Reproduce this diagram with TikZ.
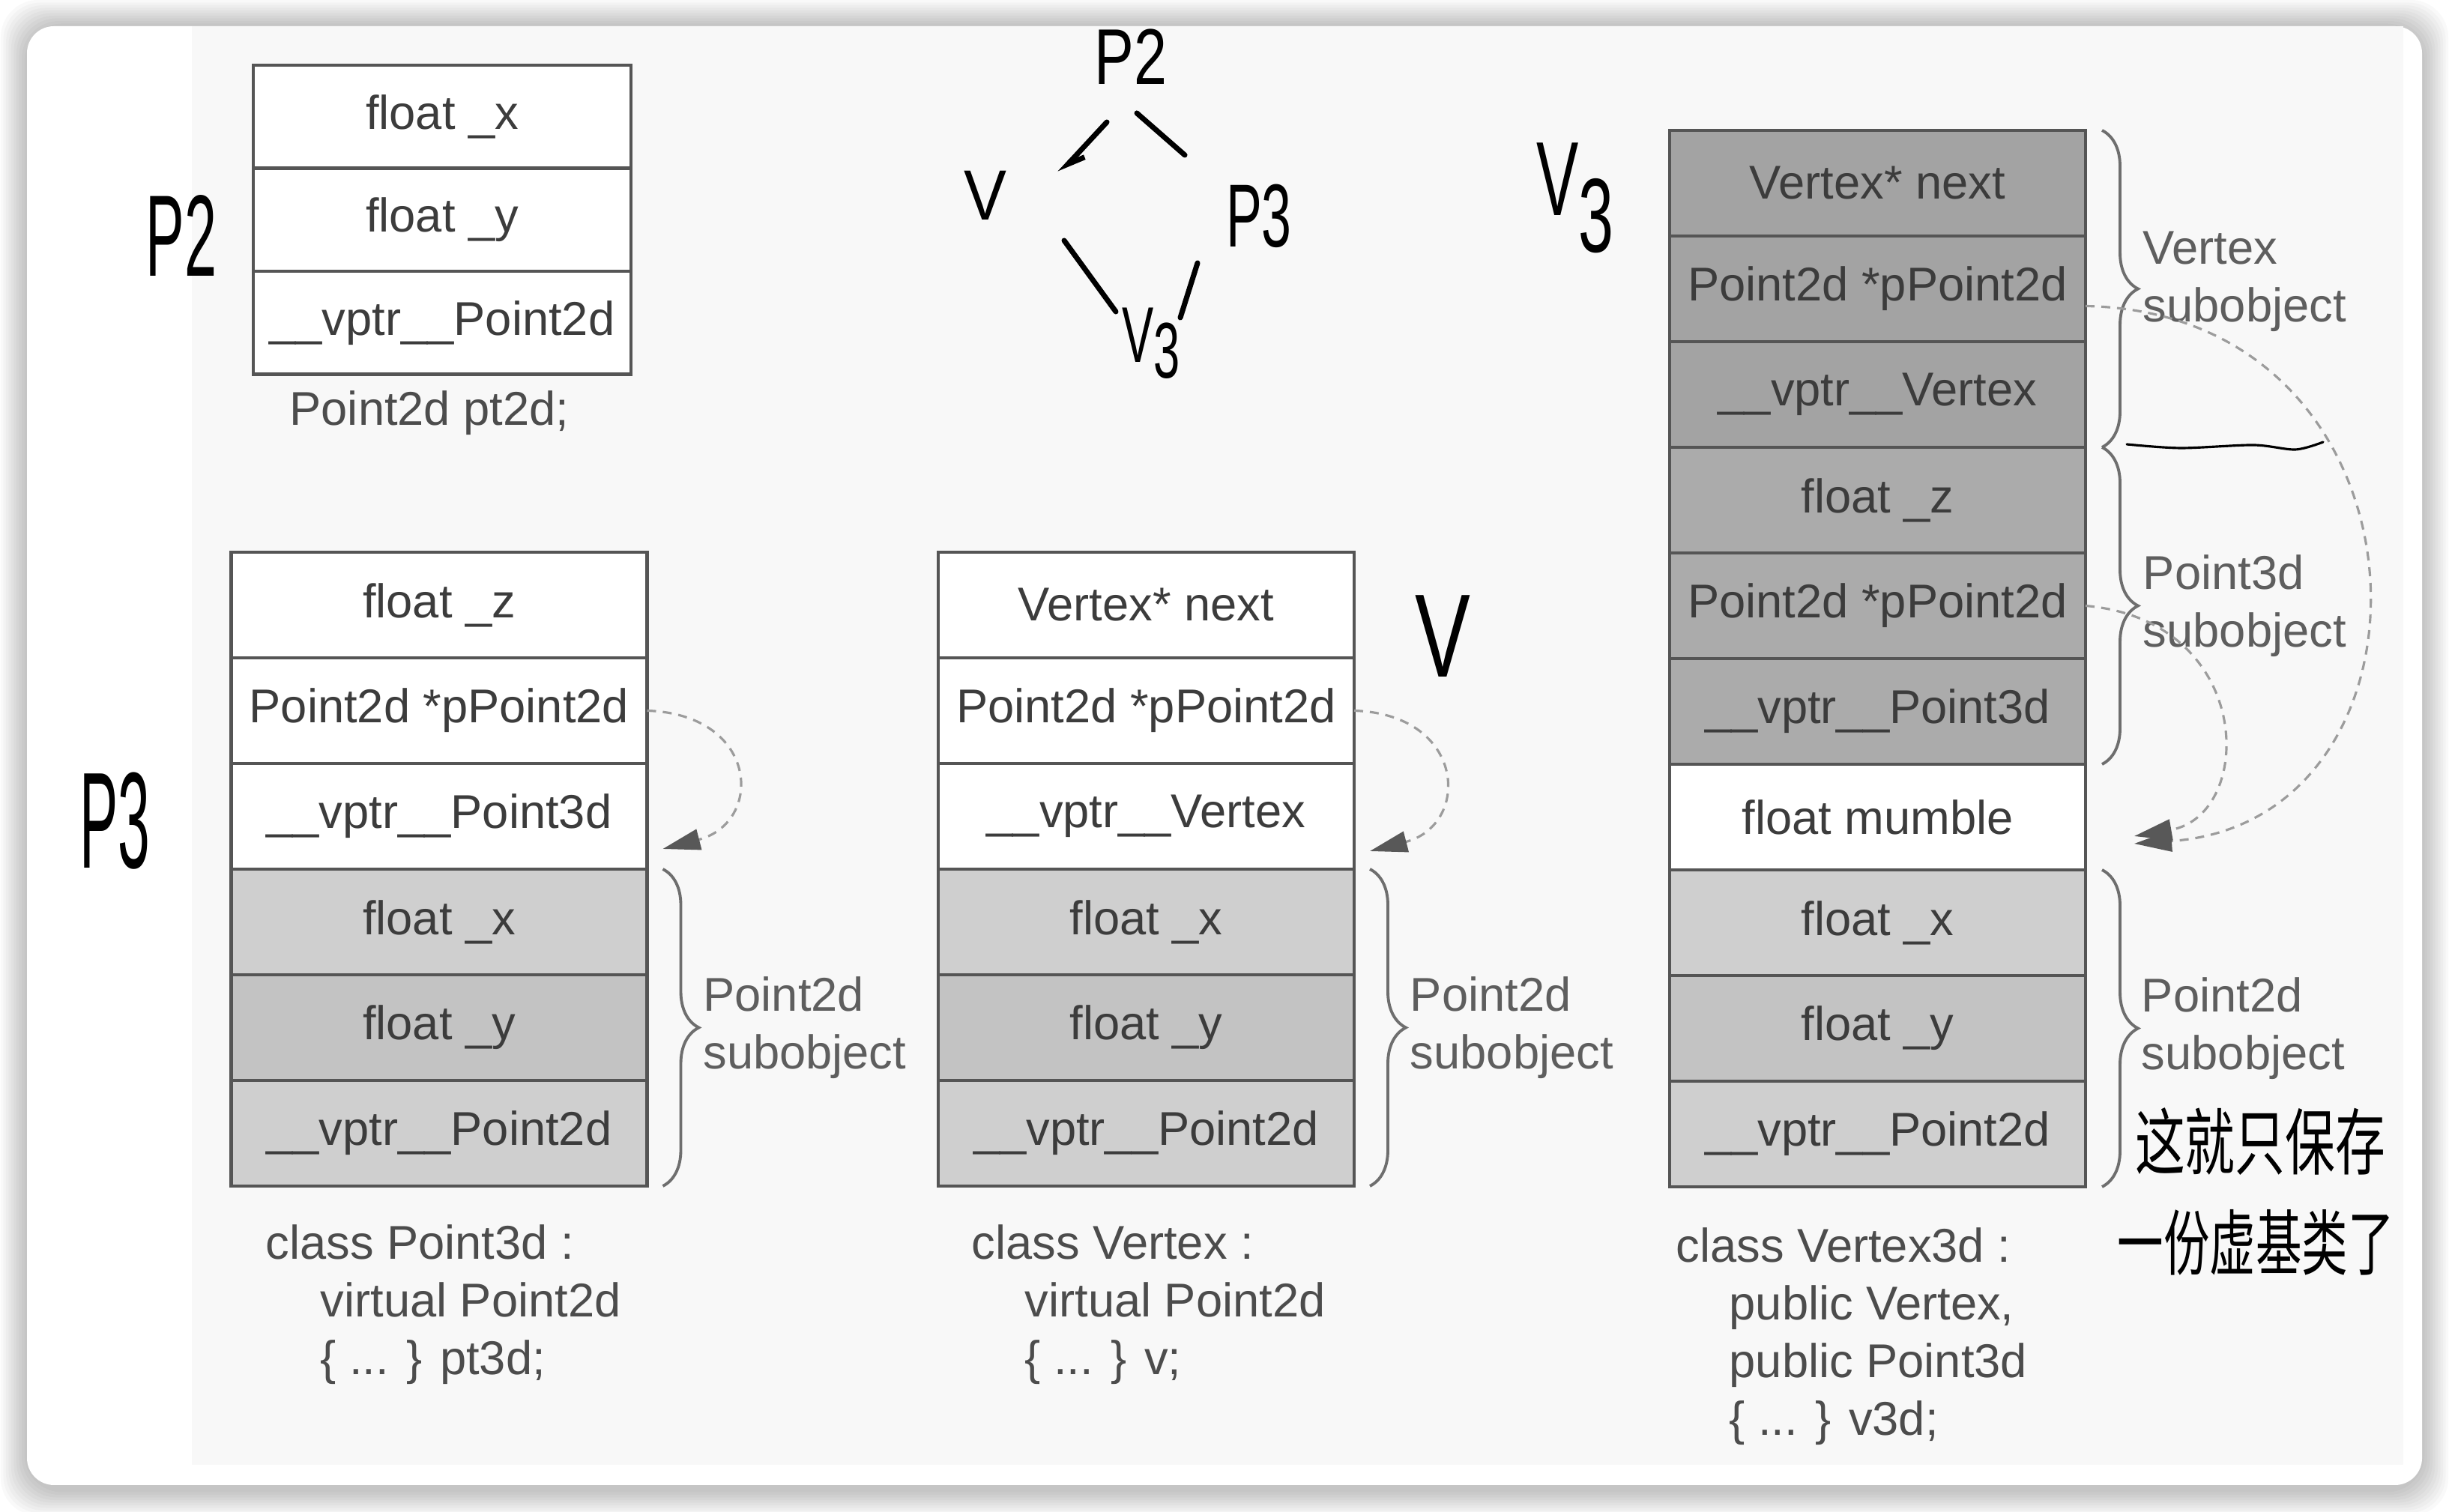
\documentclass[tikz,border=0pt]{standalone}
\usepackage{graphicx}
\usepackage{fontspec}
\setmainfont{Liberation Sans}
\newfontfamily\cjk{Noto Sans CJK SC}
\usetikzlibrary{positioning,arrows.meta,decorations.pathreplacing}

\definecolor{scanbg}{HTML}{F8F8F8}
\definecolor{boxline}{HTML}{555555}
\definecolor{txt}{HTML}{3C3C3C}
\definecolor{captxt}{HTML}{4C4C4C}
\definecolor{lbl}{HTML}{5E5E5E}
\definecolor{bracegray}{HTML}{6E6E6E}
\definecolor{shadeV}{HTML}{A3A3A3}
\definecolor{shadeP}{HTML}{ABABAB}
\definecolor{shadeB}{HTML}{CFCFCF}
\definecolor{ptrgray}{HTML}{9C9C9C}
\definecolor{tipgray}{HTML}{585858}

\newcommand\boxfont{\fontsize{18}{21.9}\selectfont}
% narrow hand-lettering: \handtext{size}{xscale}{text}
\newcommand\handtext[3]{\fontsize{#1}{#1}\selectfont\scalebox{#2}[1]{#3}}

\tikzset{
  field/.style = {draw=boxline, line width=1.3pt, fill=white,
                  minimum width=5.55cm, minimum height=1.41cm,
                  inner sep=0pt, outer sep=0pt, text=txt, font=\boxfont},
  small field/.style = {field, minimum width=5.04cm, minimum height=1.376cm},
  caption/.style = {text=captxt, font=\boxfont, inner sep=0pt, align=left},
  sublbl/.style = {text=lbl, font=\boxfont, inner sep=0pt, align=left, anchor=west},
  brc/.style = {decorate, decoration={brace, amplitude=4.8mm},
                draw=bracegray, line width=1.1pt},
  ptr/.style = {draw=ptrgray, line width=0.9pt, dash pattern=on 1.2mm off 0.9mm,
                -{Triangle[length=5mm, width=2.8mm, color=tipgray, fill=tipgray]}},
  hand/.style = {text=black, inner sep=0pt},
  handline/.style = {black, line width=2pt, line cap=round, line join=round}
}

\begin{document}
\begin{tikzpicture}[x=1cm, y=1cm]

% page and card
\useasboundingbox (0,0) rectangle (32.68,20.18);
\fill[white] (0,0) rectangle (32.68,20.18);
\foreach \i in {1,...,10}
  \fill[black, opacity=0.022, rounded corners=0.5cm]
    (0.36-0.035*\i, 0.30-0.035*\i) rectangle (32.32+0.035*\i, 19.83+0.035*\i);
\fill[white, rounded corners=0.36cm] (0.36,0.36) rectangle (32.32,19.83);
\fill[scanbg] (2.56,0.63) rectangle (32.07,19.83);

% Point2d pt2d
\node[small field] (p2x) at (5.90,18.622) {float \_x};
\node[small field, below=0pt of p2x] (p2y) {float \_y};
\node[small field, below=0pt of p2y] (p2v) {\_\_vptr\_\_Point2d};
\node[caption] (cap2d) at (5.73,14.67) {Point2d pt2d;};

% class Point3d
\node[field] (p3z) at (5.86,12.105) {float \_z};
\node[field, below=0pt of p3z] (p3pp) {Point2d *pPoint2d};
\node[field, below=0pt of p3pp] (p3vp) {\_\_vptr\_\_Point3d};
\node[field, fill=shadeB, below=0pt of p3vp] (p3x) {float \_x};
\node[field, fill=shadeB!94!black, below=0pt of p3x] (p3y) {float \_y};
\node[field, fill=shadeB, below=0pt of p3y] (p3v2) {\_\_vptr\_\_Point2d};
\draw[brc] ([xshift=2.1mm]p3x.north east) -- ([xshift=2.1mm]p3v2.south east)
  node[sublbl, midway, xshift=5.2mm] (p3sub) {Point2d\\subobject};
\coordinate (p3tip) at ([xshift=2.1mm, yshift=2.7mm]p3vp.south east);
\draw[ptr] (p3pp.east) .. controls +(1.5,-0.05) and +(1.35,0.35) .. (p3tip);
\node[caption, anchor=north west] (cap3d) at (3.54,3.84)
  {class Point3d :\\\hspace*{0.73cm}virtual Point2d\\\hspace*{0.73cm}\{ ... \} pt3d;};

% class Vertex
\node[field] (vnx) at (15.295,12.105) {Vertex* next};
\node[field, below=0pt of vnx] (vpp) {Point2d *pPoint2d};
\node[field, below=0pt of vpp] (vvp) {\_\_vptr\_\_Vertex};
\node[field, fill=shadeB, below=0pt of vvp] (vx) {float \_x};
\node[field, fill=shadeB!94!black, below=0pt of vx] (vy) {float \_y};
\node[field, fill=shadeB, below=0pt of vy] (vv2) {\_\_vptr\_\_Point2d};
\draw[brc] ([xshift=2.1mm]vx.north east) -- ([xshift=2.1mm]vv2.south east)
  node[sublbl, midway, xshift=5.2mm] (vsub) {Point2d\\subobject};
\coordinate (vtip) at ([xshift=2.1mm, yshift=2.4mm]vvp.south east);
\draw[ptr] (vpp.east) .. controls +(1.5,-0.05) and +(1.35,0.35) .. (vtip);
\node[caption, anchor=north west] (capv) at (12.96,3.84)
  {class Vertex :\\\hspace*{0.71cm}virtual Point2d\\\hspace*{0.71cm}\{ ... \} v;};

% class Vertex3d
\node[field, fill=shadeV] (v3nx) at (25.055,17.735) {Vertex* next};
\node[field, fill=shadeV, below=0pt of v3nx] (v3pa) {Point2d *pPoint2d};
\node[field, fill=shadeV, below=0pt of v3pa] (v3vv) {\_\_vptr\_\_Vertex};
\node[field, fill=shadeP, below=0pt of v3vv] (v3z) {float \_z};
\node[field, fill=shadeP, below=0pt of v3z] (v3pb) {Point2d *pPoint2d};
\node[field, fill=shadeP, below=0pt of v3pb] (v3vp) {\_\_vptr\_\_Point3d};
\node[field, below=0pt of v3vp] (v3m) {float mumble};
\node[field, fill=shadeB, below=0pt of v3m] (v3x) {float \_x};
\node[field, fill=shadeB!94!black, below=0pt of v3x] (v3y) {float \_y};
\node[field, fill=shadeB, below=0pt of v3y] (v3v2) {\_\_vptr\_\_Point2d};
\draw[brc] ([xshift=2.2mm]v3nx.north east) -- ([xshift=2.2mm]v3vv.south east)
  node[sublbl, midway, xshift=5.3mm, yshift=1mm] (v3vsub) {Vertex\\subobject};
\draw[brc] ([xshift=2.2mm]v3z.north east) -- ([xshift=2.2mm]v3vp.south east)
  node[sublbl, midway, xshift=5.3mm] (v3psub) {Point3d\\subobject};
\draw[brc] ([xshift=2.2mm]v3x.north east) -- ([xshift=2.2mm]v3v2.south east)
  node[sublbl, midway, xshift=5.1mm] (v3bsub) {Point2d\\subobject};
\coordinate (v3tipa) at ([xshift=6.5mm, yshift=3.5mm]v3m.south east);
\coordinate (v3tipb) at ([xshift=6.5mm, yshift=4.5mm]v3m.south east);
\draw[ptr] ([yshift=-2.3mm]v3pa.east) .. controls +(4.77,-0.09) and +(4.3,0.3) .. (v3tipa);
\draw[ptr] (v3pb.east) .. controls +(2.27,-0.2) and +(1.62,0.28) .. (v3tipb);
\node[caption, anchor=north west] (capv3d) at (22.36,3.80)
  {class Vertex3d :\\\hspace*{0.71cm}public Vertex,\\\hspace*{0.71cm}public Point3d\\\hspace*{0.71cm}\{ ... \} v3d;};

% handwritten notes
\node[hand] (nP2) at (2.42,17.03) {\handtext{44}{0.5}{P2}};
\node[hand] (nP3) at (1.53,9.22) {\handtext{52}{0.42}{P3}};
\node[hand] (nV) at (19.25,11.69) {\handtext{45}{0.7}{V}};
\node[hand] (nV3) at (21.02,17.54) {\handtext{40}{0.6}{V\raisebox{-0.35em}{3}}};
\draw[handline, line width=0.9pt]
  plot[smooth] coordinates {(28.38,14.25) (29.10,14.20) (30.07,14.24) (30.63,14.18) (31.00,14.28)};
\node[hand, font=\cjk\fontsize{19}{19}\selectfont] (note1) at (30.16,4.94)
  {\scalebox{1}[1.45]{这就只保存}};
\node[hand, font=\cjk\fontsize{17.5}{17.5}\selectfont] (note2) at (30.10,3.60)
  {\scalebox{1}[1.55]{一份虚基类了}};

% inheritance sketch
\node[hand] (dP2) at (15.09,19.42) {\handtext{30}{0.75}{P2}};
\node[hand] (dV) at (13.15,17.57) {\handtext{27}{0.9}{V}};
\node[hand] (dP3) at (16.80,17.30) {\handtext{34}{0.6}{P3}};
\node[hand] (dV3) at (15.36,15.60) {\handtext{30}{0.6}{V\raisebox{-0.2em}{3}}};
\draw[handline, -{Straight Barb[left, length=2.2mm, width=2mm]}]
  ([shift={(-0.32,-0.87)}]dP2.center) -- ([shift={(0.99,0.30)}]dV.center);
\draw[handline] ([shift={(0.08,-0.75)}]dP2.center) -- ([shift={(-0.99,0.81)}]dP3.center);
\draw[handline] ([shift={(1.05,-0.60)}]dV.center) -- ([shift={(-0.47,0.42)}]dV3.center);
\draw[handline] ([shift={(-0.82,-0.63)}]dP3.center) -- ([shift={(0.39,0.34)}]dV3.center);

\end{tikzpicture}
\end{document}
